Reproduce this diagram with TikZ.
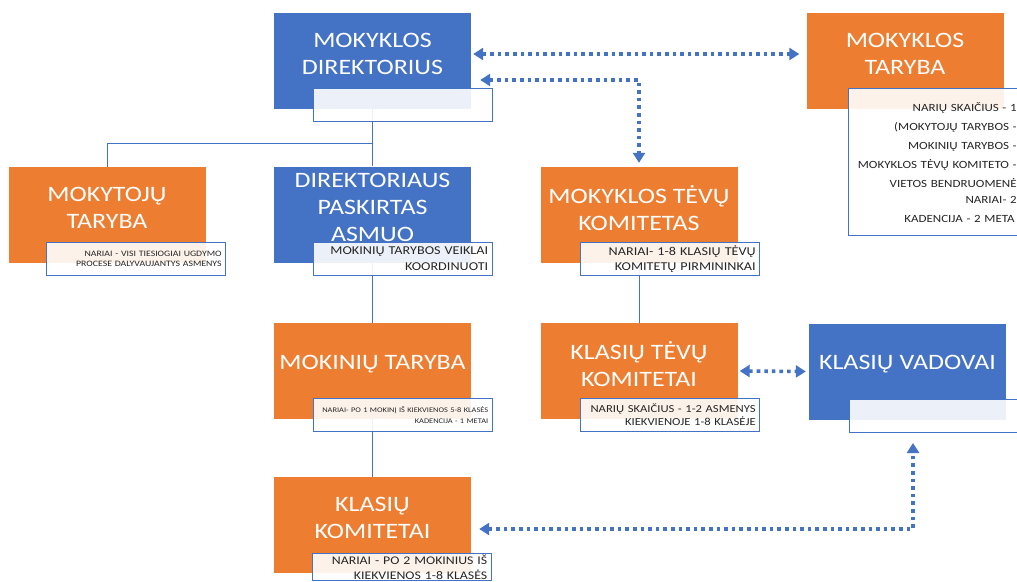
\documentclass[tikz,border=0pt]{standalone}
\usepackage{fontspec}
\setmainfont{Carlito}[FakeStretch=1.18]
\usetikzlibrary{arrows.meta}
\definecolor{dblue}{HTML}{4472C4}
\definecolor{dorange}{HTML}{ED7D31}
\tikzset{
box/.style={minimum width=197pt, minimum height=96pt, inner sep=0pt},
bluebox/.style={box, fill=dblue},
orangebox/.style={box, fill=dorange},
title/.style={text=white, font=\fontsize{22}{27}\selectfont, align=center},
notebox/.style={draw=dblue, line width=0.8pt, fill=white, fill opacity=0.9, text opacity=1, text=black!85, anchor=north west, minimum width=179pt, minimum height=33pt, text width=171pt, inner xsep=4pt, inner ysep=0pt, align=right},
link/.style={draw=dblue, line width=0.9pt},
dotarrow/.style={draw=dblue, line width=3.6pt, dash pattern=on 3.6pt off 4pt, {Triangle[length=10pt,width=12pt]}-{Triangle[length=10pt,width=12pt]}}
}
\begin{document}
\begin{tikzpicture}[x=1pt,y=-1pt]
\useasboundingbox (0,0) rectangle (1017,581);
\clip (0,0) rectangle (1017,581);
\node[bluebox] (dir) at (372.5,60.5) {};
\node[orangebox] (mtar) at (905,61) {};
\node[orangebox] (mokytoju) at (107,215) {};
\node[bluebox] (paskirtas) at (372.5,214.5) {};
\node[orangebox] (tevu) at (639,215) {};
\node[orangebox] (mokiniu) at (372.5,371) {};
\node[orangebox] (ktevu) at (639,371) {};
\node[bluebox] (vadovai) at (907.5,371.5) {};
\node[orangebox] (kkomitetai) at (372.5,525) {};
\coordinate (branch) at (372.5,143);
\coordinate (vadtip) at (913,443);

\draw[link] (dir.south) -- (paskirtas.north);
\draw[link] (mokytoju.north) |- (branch);
\draw[link] (paskirtas.south) -- (mokiniu.north);
\draw[link] (mokiniu.south) -- (kkomitetai.north);
\draw[link] (tevu.south) -- (ktevu.north);

\node[title] (dir-t) at ([yshift=7pt]dir.center) {MOKYKLOS\\DIREKTORIUS};
\node[title] (mtar-t) at ([yshift=7pt]mtar.center) {MOKYKLOS\\TARYBA};
\node[title] (mokytoju-t) at ([yshift=7pt]mokytoju.center) {MOKYTOJŲ\\TARYBA};
\node[title] (paskirtas-t) at ([yshift=7pt]paskirtas.center) {DIREKTORIAUS\\PASKIRTAS\\ASMUO};
\node[title] (tevu-t) at ([yshift=7pt]tevu.center) {MOKYKLOS TĖVŲ\\KOMITETAS};
\node[title] (mokiniu-t) at ([yshift=7pt]mokiniu.center) {MOKINIŲ TARYBA};
\node[title] (ktevu-t) at ([yshift=7pt]ktevu.center) {KLASIŲ TĖVŲ\\KOMITETAI};
\node[title] (vadovai-t) at ([yshift=7pt]vadovai.center) {KLASIŲ VADOVAI};
\node[title] (kkomitetai-t) at ([yshift=7pt]kkomitetai.center) {KLASIŲ\\KOMITETAI};

\node[notebox] (dirnote) at ([shift={(39pt,21pt)}]dir.south west) {};
\node[notebox, minimum width=172pt, minimum height=147pt, text width=164pt, font=\fontsize{11}{16}\selectfont] (mtarnote) at ([shift={(42pt,21pt)}]mtar.south west) {NARIŲ SKAIČIUS - 1\hspace*{2pt}\\[3pt](MOKYTOJŲ TARYBOS -\hspace*{6pt}\\[3pt]MOKINIŲ TARYBOS -\hspace*{6pt}\\[3pt]MOKYKLOS TĖVŲ KOMITETO -\hspace*{6pt}\\[3pt]VIETOS BENDRUOMENĖ\hspace*{2pt}\\NARIAI- 2\hspace*{2pt}\\[3pt]KADENCIJA - 2 META\hspace*{2pt}};
\node[notebox, font=\fontsize{8.3}{10}\selectfont] (mokytojunote) at ([shift={(38pt,21pt)}]mokytoju.south west) {NARIAI - VISI TIESIOGIAI UGDYMO\\PROCESE DALYVAUJANTYS ASMENYS};
\node[notebox, font=\fontsize{12}{15.5}\selectfont] (paskirtasnote) at ([shift={(39pt,21pt)}]paskirtas.south west) {MOKINIŲ TARYBOS VEIKLAI\\KOORDINUOTI};
\node[notebox, font=\fontsize{12}{15.5}\selectfont] (tevunote) at ([shift={(40pt,21pt)}]tevu.south west) {NARIAI- 1-8 KLASIŲ TĖVŲ\\KOMITETŲ PIRMININKAI};
\node[notebox, font=\fontsize{7.1}{10.7}\selectfont] (mokiniunote) at ([shift={(39pt,21pt)}]mokiniu.south west) {NARIAI- PO 1 MOKINĮ IŠ KIEKVIENOS 5-8 KLASĖS\\KADENCIJA - 1 METAI};
\node[notebox, font=\fontsize{10.7}{13}\selectfont] (ktevunote) at ([shift={(40pt,21pt)}]ktevu.south west) {NARIŲ SKAIČIUS - 1-2 ASMENYS\\KIEKVIENOJE 1-8 KLASĖJE};
\node[notebox, minimum width=200pt] (vadovainote) at ([shift={(40pt,21pt)}]vadovai.south west) {};
\node[notebox, minimum height=27pt, font=\fontsize{11.7}{15}\selectfont] (kkomitetainote) at ([shift={(38pt,20pt)}]kkomitetai.south west) {NARIAI - PO 2 MOKINIUS IŠ\\KIEKVIENOS 1-8 KLASĖS};

\draw[dotarrow] ([shift={(2pt,6.5pt)}]dir.east) -- ([shift={(-7pt,7pt)}]mtar.west);
\draw[dotarrow] ([shift={(9pt,-19.5pt)}]dir.east) -| ([yshift=4pt]tevu.north);
\draw[dotarrow] ([xshift=2pt]ktevu.east) -- ([xshift=-3pt]vadovai.west);
\draw[dotarrow] ([shift={(8pt,-4pt)}]kkomitetai.east) -| (vadtip);
\end{tikzpicture}
\end{document}
